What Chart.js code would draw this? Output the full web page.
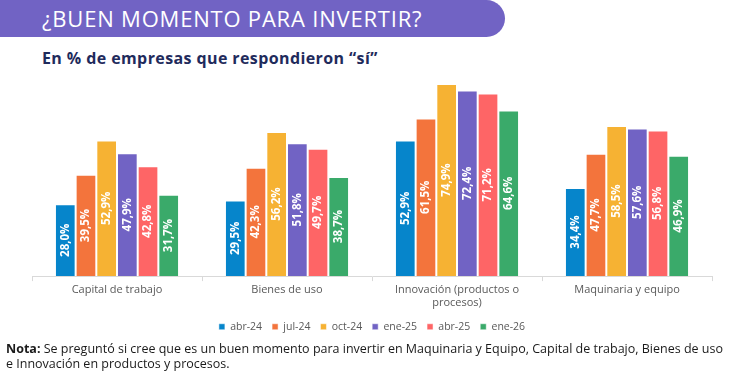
<!DOCTYPE html>
<html lang="es">
<head>
<meta charset="utf-8">
<script src="https://cdn.jsdelivr.net/npm/chart.js@4.4.1/dist/chart.umd.min.js"></script>
<style>
    html, body { margin: 0; padding: 0; background: #fff; }
    body { width: 730px; height: 372px; position: relative; overflow: hidden; font-family: "Open Sans", sans-serif; }
    .banner {
        position: absolute; left: 0; top: 0; width: 505px; height: 37px;
        background: #7163c4; border-radius: 0 19px 19px 0;
    }
    .banner h1 {
        margin: 0; position: absolute; left: 42px; top: 4px;
        font-size: 22px; font-weight: 400; color: #fff; letter-spacing: 0.8px; line-height: 28px;
    }
    .subtitle {
        position: absolute; left: 42px; top: 47px; margin: 0;
        font-size: 16px; font-weight: 700; color: #1f2b5c; line-height: 22px; letter-spacing: 0.4px;
    }
    .chart-wrap { position: absolute; left: 0; top: 64px; width: 730px; height: 278px; }
    .nota {
        position: absolute; left: 6px; top: 341px; width: 724px; margin: 0;
        font-size: 12.5px; line-height: 15px; color: #1a1a1a;
    }
    .nota b { font-weight: 700; }
</style>
</head>
<body>
<div class="banner"><h1>¿BUEN MOMENTO PARA INVERTIR?</h1></div>
<p class="subtitle">En % de empresas que respondieron “sí”</p>
<div class="chart-wrap"><canvas id="chart"></canvas></div>
<p class="nota"><b>Nota:</b> Se preguntó si cree que es un buen momento para invertir en Maquinaria y Equipo, Capital de trabajo, Bienes de uso e Innovación en productos y procesos.</p>
<script>
    var categories = ['Capital de trabajo', 'Bienes de uso', ['Innovación (productos o', 'procesos)'], 'Maquinaria y equipo'];
    var periods = ['abr-24', 'jul-24', 'oct-24', 'ene-25', 'abr-25', 'ene-26'];
    var abr24 = [28.0, 29.5, 52.9, 34.4];
    var jul24 = [39.5, 42.3, 61.5, 47.7];
    var oct24 = [52.9, 56.2, 74.9, 58.5];
    var ene25 = [47.9, 51.8, 72.4, 57.6];
    var abr25 = [42.8, 49.7, 71.2, 56.8];
    var ene26 = [31.7, 38.7, 64.6, 46.9];
    var seriesValues = [abr24, jul24, oct24, ene25, abr25, ene26];
    var colors = ['#0685cb', '#f3743c', '#f6b233', '#7163c4', '#fe6566', '#3aaa6a'];

    var barLabels = {
        id: 'barLabels',
        afterDatasetsDraw: function (chart) {
            var ctx = chart.ctx;
            ctx.save();
            ctx.fillStyle = '#ffffff';
            ctx.font = 'bold 11.5px "Open Sans", sans-serif';
            ctx.textAlign = 'center';
            ctx.textBaseline = 'middle';
            chart.data.datasets.forEach(function (ds, i) {
                chart.getDatasetMeta(i).data.forEach(function (bar, j) {
                    var text = ds.data[j].toFixed(1).replace('.', ',') + '%';
                    ctx.save();
                    ctx.translate(bar.x, (bar.y + bar.base) / 2);
                    ctx.rotate(-Math.PI / 2);
                    ctx.fillText(text, 0, 0);
                    ctx.restore();
                });
            });
            ctx.restore();
        }
    };

    new Chart(document.getElementById('chart'), {
        type: 'bar',
        data: {
            labels: categories,
            datasets: periods.map(function (p, i) {
                return {
                    label: p,
                    data: seriesValues[i],
                    backgroundColor: colors[i],
                    borderColor: 'rgba(255,255,255,0.5)',
                    borderWidth: 1,
                    categoryPercentage: 0.73,
                    barPercentage: 1
                };
            })
        },
        options: {
            responsive: true,
            maintainAspectRatio: false,
            animation: false,
            layout: { padding: { left: 32, right: 18, top: 7, bottom: 0 } },
            plugins: {
                legend: {
                    position: 'bottom',
                    labels: {
                        boxWidth: 6, boxHeight: 6, padding: 10,
                        color: '#595959',
                        font: { family: '"Open Sans", sans-serif', size: 10.5 }
                    }
                },
                tooltip: { enabled: false }
            },
            scales: {
                x: {
                    grid: { offset: true, drawOnChartArea: false, tickLength: 5, color: '#d9d9d9' },
                    border: { color: '#d9d9d9' },
                    ticks: { color: '#595959', padding: 2, font: { family: '"Open Sans", sans-serif', size: 11 } }
                },
                y: {
                    display: false,
                    min: 0,
                    max: 80
                }
            }
        },
        plugins: [barLabels]
    });
</script>
</body>
</html>
